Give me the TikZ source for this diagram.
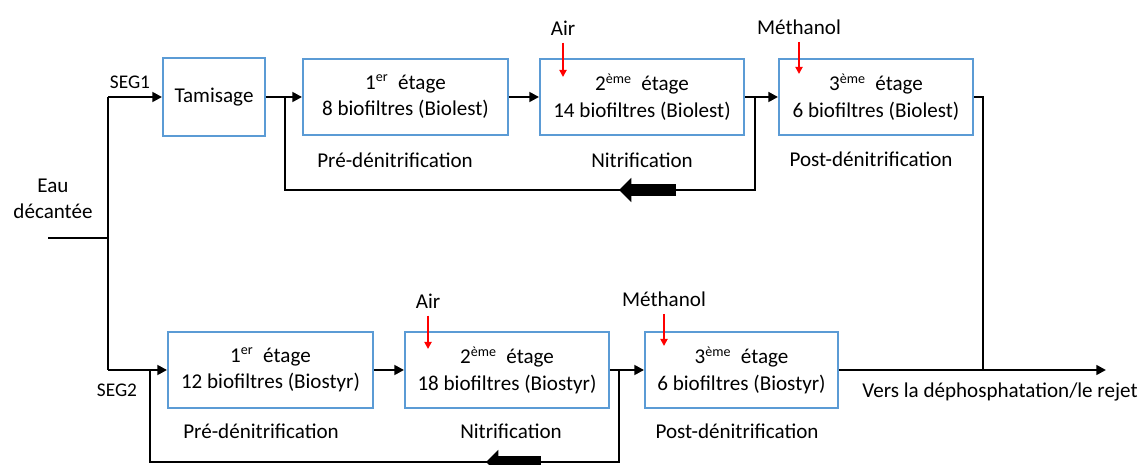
\documentclass[tikz,border=0pt]{standalone}
\usepackage{fontspec}
\setmainfont{Carlito}
\usetikzlibrary{arrows.meta}
\definecolor{boxblue}{RGB}{91,155,213}
\tikzset{
  bx/.style={draw=boxblue,line width=1.1pt,align=center,inner sep=0pt,minimum height=1.52cm},
  fl/.style={line width=1.6pt},
  fa/.style={fl,-{Triangle[length=5.5pt,width=5.5pt]}},
  fat/.style={line width=6.5pt,-{Triangle[length=7pt,width=13.5pt]}},
  dose/.style={red,line width=1pt,-{Triangle[length=4pt,width=4pt]}},
  lbl/.style={inner sep=1pt}
}
\newcommand{\stg}[3]{#1\textsuperscript{#2}~~étage\\#3}

\begin{document}
\begin{tikzpicture}[x=0.02cm,y=-0.02cm,font=\fontsize{12}{15}\selectfont]
\useasboundingbox (0,0) rectangle (1142,465);
% entree
\node[lbl,align=center] (eau) at (53,199) {Eau\\décantée};
\coordinate (in) at (48,238); \coordinate (sp) at (108,238);
\coordinate (s1) at (108,97); \coordinate (s2) at (108,370);
\draw[fl] (in) -- (sp); \draw[fl] (s1) -- (s2);
\node[lbl,font=\fontsize{11}{13}\selectfont] (seg1) at (130,82) {SEG1};
\node[lbl,font=\fontsize{11}{13}\selectfont] (seg2) at (117,390) {SEG2};
% file 1 (Biolest)
\node[bx,minimum width=2.04cm,minimum height=1.56cm] (tam) at (214,97) {Tamisage};
\node[bx,minimum width=4.1cm] (b11) at (405.5,97) {\stg{1}{er}{8 biofiltres (Biolest)}};
\node[bx,minimum width=4.08cm] (b12) at (642,97) {\stg{2}{ème}{14 biofiltres (Biolest)}};
\node[bx,minimum width=3.88cm] (b13) at (876,97) {\stg{3}{ème}{6 biofiltres (Biolest)}};
\draw[fa] (s1) -- (tam);
\draw[fa] (tam) -- (b11); \draw[fa] (b11) -- (b12); \draw[fa] (b12) -- (b13);
\node[lbl] (pre1) at (395,160) {Pré-dénitrification};
\node[lbl] (nit1) at (642,160) {Nitrification};
\node[lbl] (post1) at (871,159) {Post-dénitrification};
\coordinate (j1) at (285,97); \coordinate (j2) at (755,97);
\coordinate (r1) at (285,190); \coordinate (r2) at (755,190);
\draw[fl] (j2) -- (r2) -- (r1) -- (j1);
\coordinate (fa1) at (676,190); \coordinate (fa2) at (619,190);
\draw[fat] (fa1) -- (fa2);
\node[lbl] (air1) at (563,28) {Air};
\coordinate (at1) at (563,77);
\draw[dose,shorten <=3pt] (air1.south) -- (at1);
\node[lbl] (met1) at (799,27) {Méthanol};
\coordinate (mt1) at (799,74);
\draw[dose,shorten <=3pt] (met1.south) -- (mt1);
% file 2 (Biostyr)
\node[bx,minimum width=4.1cm] (b21) at (270.5,370) {\stg{1}{er}{12 biofiltres (Biostyr)}};
\node[bx,minimum width=4.08cm] (b22) at (507,370) {\stg{2}{ème}{18 biofiltres (Biostyr)}};
\node[bx,minimum width=3.86cm] (b23) at (741.5,370) {\stg{3}{ème}{6 biofiltres (Biostyr)}};
\draw[fa] (s2) -- (b21);
\draw[fa] (b21) -- (b22); \draw[fa] (b22) -- (b23);
\node[lbl] (pre2) at (261,431) {Pré-dénitrification};
\node[lbl] (nit2) at (511,431) {Nitrification};
\node[lbl] (post2) at (737,431) {Post-dénitrification};
\coordinate (j3) at (150,370); \coordinate (j4) at (619,370);
\coordinate (r3) at (150,462); \coordinate (r4) at (619,462);
\draw[fl] (j4) -- (r4) -- (r3) -- (j3);
\coordinate (fa3) at (541,462); \coordinate (fa4) at (486,462);
\draw[fat] (fa3) -- (fa4);
\node[lbl] (air2) at (428,301) {Air};
\coordinate (at2) at (428,349);
\draw[dose,shorten <=3pt] (air2.south) -- (at2);
\node[lbl] (met2) at (664,299) {Méthanol};
\coordinate (mt2) at (664,346);
\draw[dose,shorten <=3pt] (met2.south) -- (mt2);
% sortie
\coordinate (o1) at (983,370); \coordinate (out) at (1106,370);
\draw[fl] (b13.east) -| (o1);
\draw[fa] (b23) -- (out);
\node[lbl] (vers) at (1000,392) {Vers la déphosphatation/le rejet};
\end{tikzpicture}
\end{document}
